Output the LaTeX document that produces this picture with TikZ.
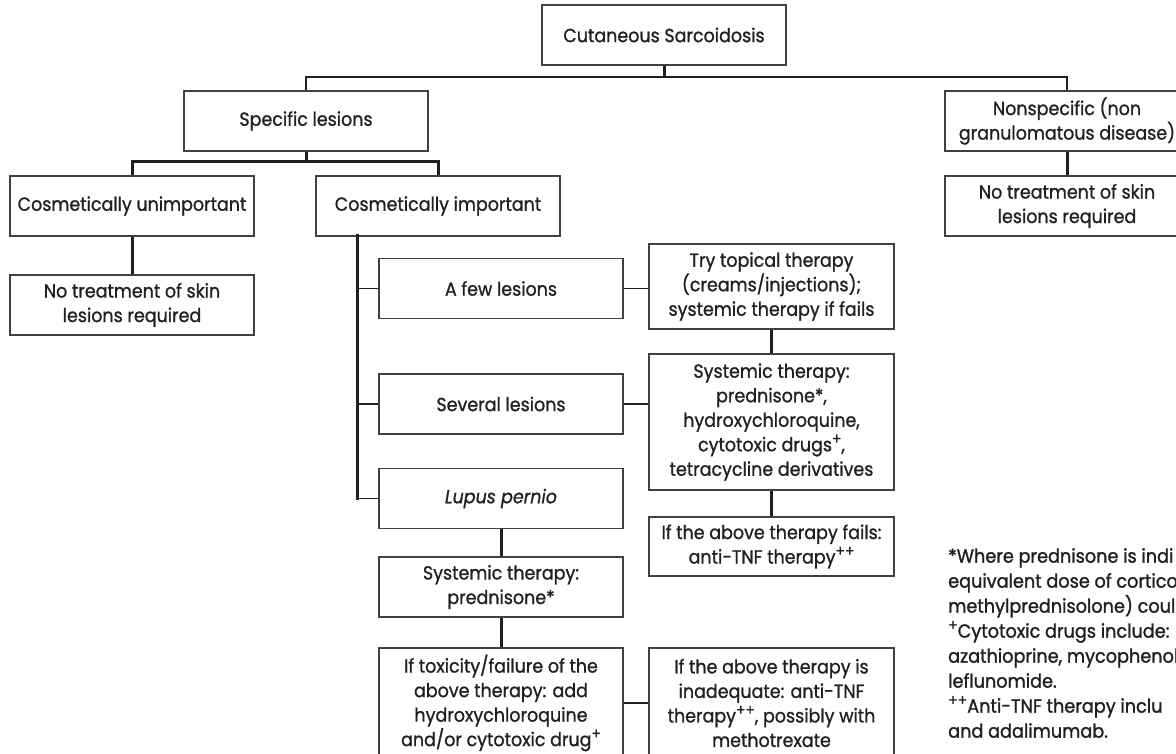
\documentclass[tikz,border=0pt]{standalone}
\usepackage{fontspec}
\setmainfont{Poppins}[FakeStretch=0.92,FakeBold=1]
\newfontfamily\fnfont{Poppins}[FakeStretch=0.93,FakeBold=1.4]
\newcommand\supmark[1]{\raisebox{0.7ex}{\fontsize{15}{15}\selectfont #1}}
\definecolor{txt}{HTML}{231F20}
\definecolor{boxc}{HTML}{404040}
\definecolor{linec}{HTML}{231F20}
\tikzset{
  box/.style={draw=boxc, line width=1.4pt, minimum width=244pt, minimum height=60pt,
    align=center, inner sep=0pt, text=txt},
  rbox/.style={box, minimum width=245pt},
  conn/.style={draw=linec, line width=3pt},
  midl/.style={draw=linec, line width=2.2pt},
  thinl/.style={draw=linec, line width=1.8pt},
}
\begin{document}
\begin{tikzpicture}[x=1pt,y=-1pt,font=\fontsize{19}{24.5}\selectfont]
\useasboundingbox (0,0) rectangle (1176,754);
\begin{scope}
\clip (0,0) rectangle (1176,754);
% nodes
\node[box] (top) at (664,35) {Cutaneous Sarcoidosis};
\node[box] (spec) at (306,121) {Specific lesions};
\node[box] (nonspec) at (1067,121) {Nonspecific (non\\granulomatous disease)};
\node[box] (nonskinR) at (1067,206) {No treatment of skin\\lesions required};
\node[box] (cunimp) at (132,206) {Cosmetically unimportant};
\node[box] (cimp) at (438,206) {Cosmetically important};
\node[box] (noskinL) at (132,305) {No treatment of skin\\lesions required};
\node[box] (few) at (501,288.5) {A few lesions};
\node[box] (several) at (501,404) {Several lesions};
\node[box] (lupus) at (501,498.5) {\itshape Lupus pernio};
\node[box] (sysp) at (501,587) {Systemic therapy:\\prednisone*};
\node[box, minimum height=110pt] (tox) at (501,703) {If toxicity/failure of the\\above therapy: add\\hydroxychloroquine\\and/or cytotoxic drug\supmark{+}};
\node[rbox, minimum height=85pt] (topical) at (771.5,286.5) {Try topical therapy\\(creams/injections);\\systemic therapy if fails};
\node[rbox, minimum height=136pt] (systemic) at (771.5,422) {Systemic therapy:\\prednisone*,\\hydroxychloroquine,\\cytotoxic drugs\supmark{+},\\tetracycline derivatives};
\node[rbox, minimum height=59pt] (fails) at (771.5,546.5) {If the above therapy fails:\\anti-TNF therapy\supmark{++}};
\node[rbox, minimum height=110pt] (inadeq) at (771.5,703) {If the above therapy is\\inadequate: anti-TNF\\therapy\supmark{++}, possibly with\\methotrexate};
% connectors
\coordinate (j0) at (664,77);
\coordinate (j1) at (306,162);
\coordinate (t0) at (357,236);
\draw[conn] (top.south) -- (j0);
\draw[midl] (spec.north) |- (j0) -| (nonspec.north);
\draw[conn] (spec.south) -- (j1);
\draw[conn] (cunimp.north) |- (j1) -| (cimp.north);
\draw[conn] (cunimp.south) -- (noskinL.north);
\draw[conn] (nonspec.south) -- (nonskinR.north);
\draw[conn, line cap=rect] (t0) -- (t0 |- lupus.west);
\draw[thinl] (t0 |- few.west) -- (few.west);
\draw[thinl] (t0 |- several.west) -- (several.west);
\draw[thinl] (t0 |- lupus.west) -- (lupus.west);
\draw[thinl] (few.east) -- (few.east -| topical.west);
\draw[thinl] (several.east) -- (several.east -| systemic.west);
\draw[conn] (topical.south) -- (systemic.north);
\draw[conn] (systemic.south) -- (fails.north);
\draw[conn] (lupus.south) -- (sysp.north);
\draw[conn] (sysp.south) -- (tox.north);
\draw[thinl] (tox.east) -- (tox.east -| inadeq.west);
% footnotes
\node[anchor=north west, align=left, inner sep=0pt, text=txt,
  font=\fnfont\fontsize{19}{25}\selectfont] (notes) at (948,548)
  {*Where prednisone is indi\\
   equivalent dose of cortico\\
   methylprednisolone) could\\
   \supmark{+}Cytotoxic drugs include:\\
   azathioprine, mycophenol\\
   leflunomide.\\
   \supmark{++}Anti-TNF therapy inclu\\
   and adalimumab.};
\end{scope}
\end{tikzpicture}
\end{document}
